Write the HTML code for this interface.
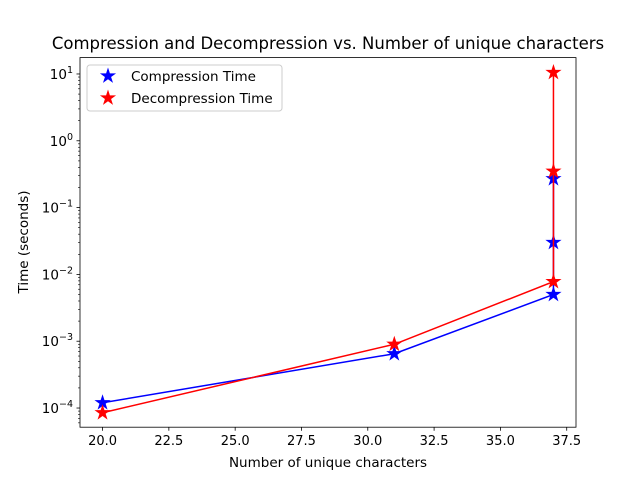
<!DOCTYPE html>
<html><head><meta charset="utf-8"><style>
body{margin:0;background:#fff;}
svg{font-family:"DejaVu Sans","Liberation Sans",sans-serif;}
</style></head><body>
<svg id="chart" width="640" height="480" viewBox="0 0 640 480" xmlns="http://www.w3.org/2000/svg">
<rect width="640" height="480" fill="#fff"/>
<text x="328" y="49" font-size="16.5" text-anchor="middle">Compression and Decompression vs. Number of unique characters</text>
<g id="plot"></g>
<text x="328" y="467" font-size="13.5" text-anchor="middle">Number of unique characters</text>
<text transform="translate(28,242) rotate(-90)" font-size="13.5" text-anchor="middle">Time (seconds)</text>
</svg>
<script>
const xCats = [20, 31, 37, 37, 37];
const compressionTimes = [1.2e-4, 6.5e-4, 5.0e-3, 0.03, 0.27];
const decompXs = [20, 31, 37, 37, 37];
const decompressionTimes = [8.5e-5, 9.0e-4, 7.8e-3, 10.5, 0.35];
const xTicks = [20.0, 22.5, 25.0, 27.5, 30.0, 32.5, 35.0, 37.5];
const yDecades = [-4, -3, -2, -1, 0, 1];

const L=80,R=576,T=57.6,B=427.2;
const xmin=19.15,xmax=37.85,lmin=-4.287,lmax=1.245;
const X=v=>L+(v-xmin)/(xmax-xmin)*(R-L);
const Y=v=>B-(Math.log10(v)-lmin)/(lmax-lmin)*(B-T);
const NS="http://www.w3.org/2000/svg";
const g=document.getElementById('plot');
function mk(tag,attrs,parent){const e=document.createElementNS(NS,tag);for(const k in attrs)e.setAttribute(k,attrs[k]);(parent||g).appendChild(e);return e;}
function star(cx,cy,r){let p=[];for(let i=0;i<10;i++){const a=-Math.PI/2+i*Math.PI/5;const rr=i%2?r*0.382:r;p.push((cx+rr*Math.cos(a)).toFixed(2)+','+(cy+rr*Math.sin(a)).toFixed(2));}return p.join(' ');}

xTicks.forEach(t=>{const x=X(t);
 const l=mk('line',{x1:x,x2:x,y1:B,y2:B+3.5,stroke:'#000','stroke-width':0.8});
 
 const tx=mk('text',{x:x,y:B+18,'font-size':13,'text-anchor':'middle'});tx.textContent=t.toFixed(1);
 
});
for(let d=-5;d<=1;d++){for(let m=1;m<10;m++){const v=m*Math.pow(10,d);const lv=Math.log10(v);if(lv<lmin||lv>lmax)continue;const y=Y(v);
 const l=mk('line',{x1:L,x2:L-(m===1?3.5:2),y1:y,y2:y,stroke:'#000','stroke-width':m===1?0.8:0.6});
 }}
yDecades.forEach(d=>{const y=Y(Math.pow(10,d));
 const t=mk('text',{x:L-7,y:y+5,'font-size':13.5,'text-anchor':'end'});
 
 t.appendChild(document.createTextNode('10'));const s=mk('tspan',{dy:-6,'font-size':9.5},t);s.textContent=String(d).replace('-','\u2212');
});
function series(xs,ys,color,name){
 const pl=mk('polyline',{points:xs.map((x,i)=>X(x)+','+Y(ys[i])).join(' '),fill:'none',stroke:color,'stroke-width':1.5});
 
 xs.forEach((x,i)=>{const s=mk('polygon',{points:star(X(x),Y(ys[i]),8.5),fill:color});
  });
}
series(xCats,compressionTimes,'#0000ff','compression');
series(decompXs,decompressionTimes,'#ff0000','decompression');
const fr=mk('rect',{x:L,y:T,width:R-L,height:B-T,fill:'none',stroke:'#000','stroke-width':0.8});

const lg=mk('g',{});
mk('rect',{x:87,y:65,width:195,height:46,rx:3,fill:'#fff','fill-opacity':0.8,stroke:'#ccc'},lg);
[['Compression Time','#0000ff',76],['Decompression Time','#ff0000',98]].forEach(([t,c,y])=>{
 const s=mk('polygon',{points:star(108,y,8.5),fill:c},lg);
 const tx=mk('text',{x:131,y:y+5,'font-size':13.5},lg);tx.textContent=t;
});
</script>
</body></html>
